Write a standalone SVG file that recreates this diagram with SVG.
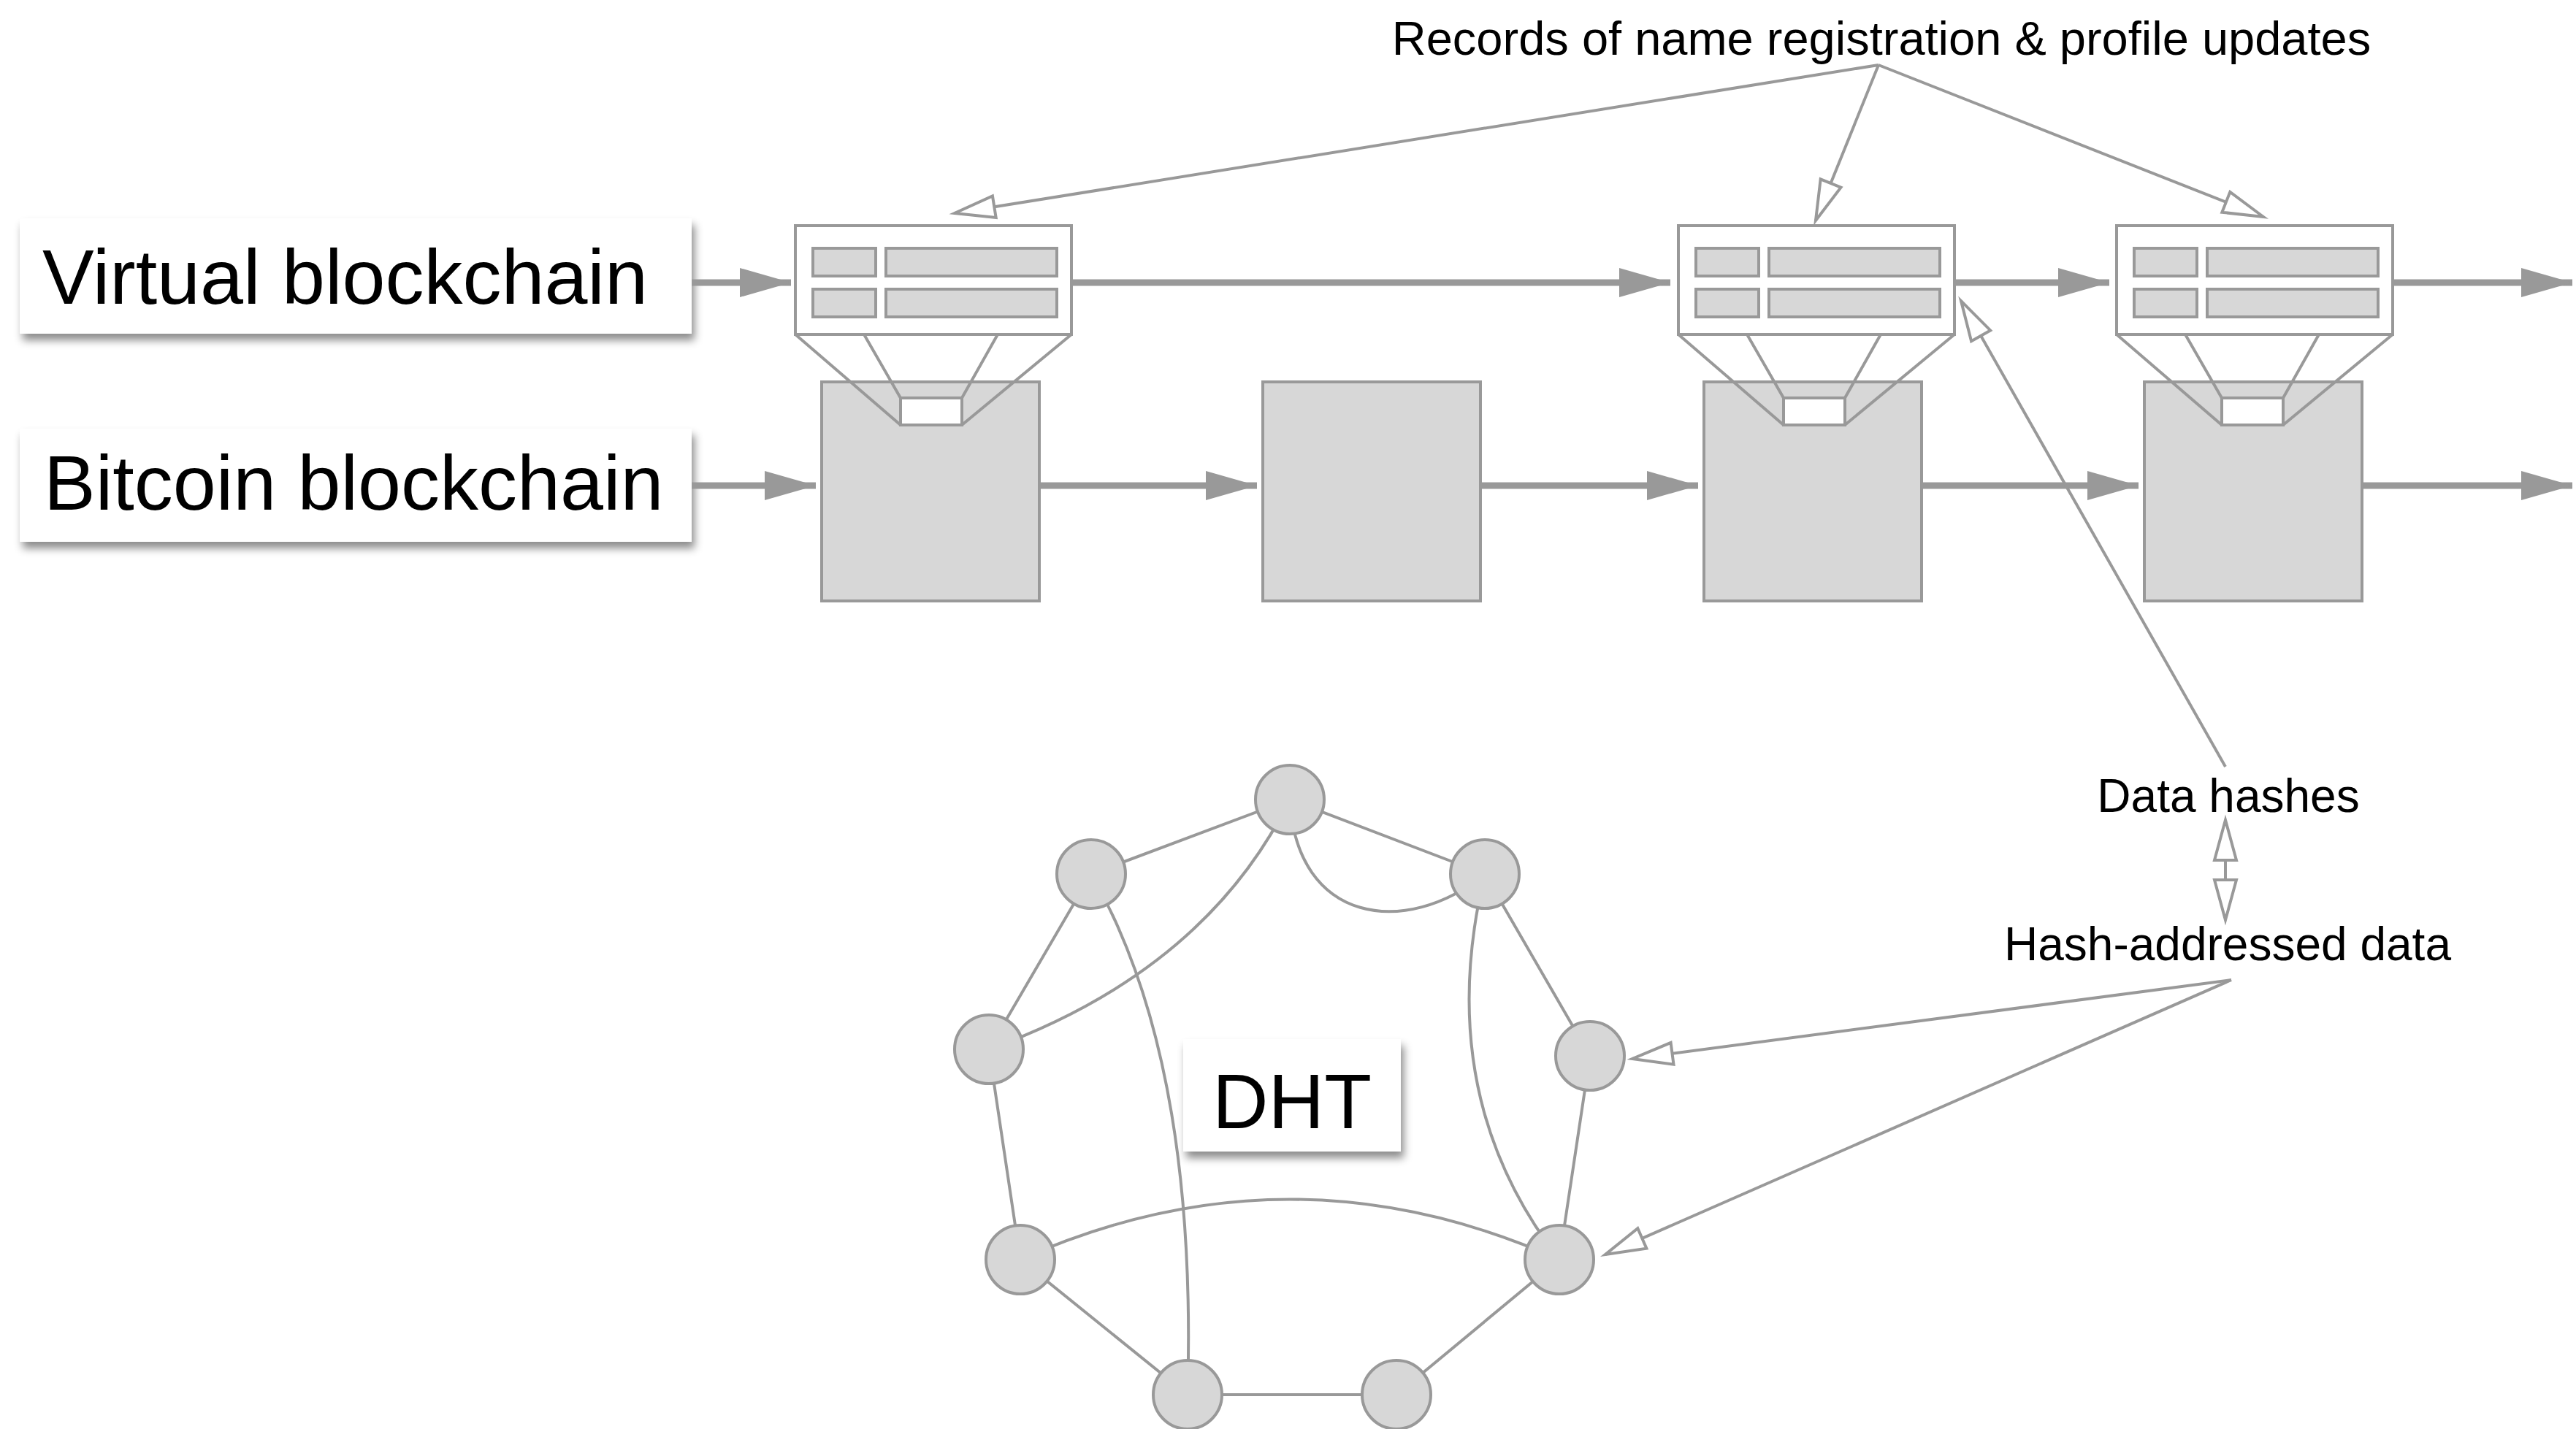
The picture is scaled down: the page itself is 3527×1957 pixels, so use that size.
<svg xmlns="http://www.w3.org/2000/svg" width="3527" height="1957" viewBox="0 0 3527 1957">
<style>
.txt{font-family:"Liberation Sans",Arial,Helvetica,sans-serif;fill:#000}
.big{font-size:106px}
.small{font-size:64px}
.lbl{fill:#fff;stroke:none}
.box{fill:#fff;stroke:#999;stroke-width:4}
.cell{fill:#d7d7d7;stroke:#999;stroke-width:4}
.blk{fill:#d7d7d7;stroke:#999;stroke-width:4}
.fun{fill:none;stroke:#999;stroke-width:4}
.node{fill:#d7d7d7;stroke:#999;stroke-width:4}
.edge{fill:none;stroke:#999;stroke-width:4}
.chain{fill:none;stroke:#999;stroke-width:9}
.ann{fill:none;stroke:#999;stroke-width:4}
</style>
<defs>
<filter id="sh" x="-10%" y="-20%" width="130%" height="160%">
<feDropShadow dx="4" dy="9" stdDeviation="6" flood-color="#000" flood-opacity="0.45"/>
</filter>
<marker id="fill" markerUnits="userSpaceOnUse" markerWidth="80" markerHeight="50" refX="70" refY="20" orient="auto" overflow="visible">
<path d="M70,20 L0,0 L0,40 Z" fill="#999"/>
</marker>
<marker id="open" markerUnits="userSpaceOnUse" markerWidth="70" markerHeight="40" refX="60" refY="20" orient="auto-start-reverse" overflow="visible">
<path d="M60,20 L5,5 L5,35 Z" fill="#fff" stroke="#999" stroke-width="4" stroke-linejoin="miter"/>
</marker>
</defs>
<rect width="3527" height="1957" fill="#fff"/>

<g id="label-virtual">
<rect class="lbl" x="27" y="299" width="920" height="158" filter="url(#sh)"/>
<text class="txt big" x="58" y="416">Virtual blockchain</text>
</g>
<g id="label-bitcoin">
<rect class="lbl" x="27" y="587" width="920" height="155" filter="url(#sh)"/>
<text class="txt big" x="60" y="698">Bitcoin blockchain</text>
</g>

<g id="block1"><rect class="blk" x="1125" y="523" width="298" height="300"/></g>
<g id="block2"><rect class="blk" x="1729" y="523" width="298" height="300"/></g>
<g id="block3"><rect class="blk" x="2333" y="523" width="298" height="300"/></g>
<g id="block4"><rect class="blk" x="2936" y="523" width="298" height="300"/></g>

<g id="record1">
<rect class="box" x="1089" y="309" width="378" height="149"/>
<rect class="cell" x="1113" y="340" width="86" height="38"/>
<rect class="cell" x="1213" y="340" width="234" height="38"/>
<rect class="cell" x="1113" y="396" width="86" height="38"/>
<rect class="cell" x="1213" y="396" width="234" height="38"/>
<path class="fun" d="M1089,458 L1233,582 M1467,458 L1317,582 M1183,458 L1233,545 M1366,458 L1317,545"/>
<rect class="box" x="1233" y="545" width="84" height="37"/>
</g>
<g id="record2">
<rect class="box" x="2298" y="309" width="378" height="149"/>
<rect class="cell" x="2322" y="340" width="86" height="38"/>
<rect class="cell" x="2422" y="340" width="234" height="38"/>
<rect class="cell" x="2322" y="396" width="86" height="38"/>
<rect class="cell" x="2422" y="396" width="234" height="38"/>
<path class="fun" d="M2298,458 L2442,582 M2676,458 L2526,582 M2392,458 L2442,545 M2575,458 L2526,545"/>
<rect class="box" x="2442" y="545" width="84" height="37"/>
</g>
<g id="record3">
<rect class="box" x="2898" y="309" width="378" height="149"/>
<rect class="cell" x="2922" y="340" width="86" height="38"/>
<rect class="cell" x="3022" y="340" width="234" height="38"/>
<rect class="cell" x="2922" y="396" width="86" height="38"/>
<rect class="cell" x="3022" y="396" width="234" height="38"/>
<path class="fun" d="M2898,458 L3042,582 M3276,458 L3126,582 M2992,458 L3042,545 M3175,458 L3126,545"/>
<rect class="box" x="3042" y="545" width="84" height="37"/>
</g>

<g id="dht-edges">
<path class="edge" d="M1766,1095 L1494,1197 M1766,1095 L2033,1197 M1494,1197 L1354,1437 M2033,1197 L2177,1446 M1354,1437 L1397,1725 M2177,1446 L2135,1725 M1397,1725 L1626,1910 M2135,1725 L1912,1910 M1626,1910 L1912,1910"/>
<path class="edge" d="M1766,1095 Q1650,1330 1354,1437"/>
<path class="edge" d="M1766,1095 C1775,1265 1925,1285 2033,1197"/>
<path class="edge" d="M1494,1197 Q1640,1450 1626,1910"/>
<path class="edge" d="M2033,1197 Q1960,1500 2135,1725"/>
<path class="edge" d="M1397,1725 Q1766,1560 2135,1725"/>
</g>
<g id="dht-n1"><circle class="node" cx="1766" cy="1095" r="47"/></g>
<g id="dht-n2"><circle class="node" cx="1494" cy="1197" r="47"/></g>
<g id="dht-n3"><circle class="node" cx="2033" cy="1197" r="47"/></g>
<g id="dht-n4"><circle class="node" cx="1354" cy="1437" r="47"/></g>
<g id="dht-n5"><circle class="node" cx="2177" cy="1446" r="47"/></g>
<g id="dht-n6"><circle class="node" cx="1397" cy="1725" r="47"/></g>
<g id="dht-n7"><circle class="node" cx="2135" cy="1725" r="47"/></g>
<g id="dht-n8"><circle class="node" cx="1626" cy="1910" r="47"/></g>
<g id="dht-n9"><circle class="node" cx="1912" cy="1910" r="47"/></g>
<g id="dht-label">
<rect class="lbl" x="1620" y="1423" width="298" height="154" filter="url(#sh)"/>
<text class="txt big" x="1769" y="1545" text-anchor="middle">DHT</text>
</g>

<g id="note-records">
<text class="txt" font-size="65" x="2576" y="75" text-anchor="middle">Records of name registration &amp; profile updates</text>
</g>
<g id="note-hashes">
<text class="txt small" x="3051" y="1112" text-anchor="middle">Data hashes</text>
</g>
<g id="note-data">
<text class="txt small" x="3050" y="1315" text-anchor="middle">Hash-addressed data</text>
</g>

<g id="connectors">
<path class="chain" d="M947,387 L1083,387" marker-end="url(#fill)"/>
<path class="chain" d="M1467,387 L2287,387" marker-end="url(#fill)"/>
<path class="chain" d="M2676,387 L2888,387" marker-end="url(#fill)"/>
<path class="chain" d="M3276,387 L3522,387" marker-end="url(#fill)"/>
<path class="chain" d="M947,665 L1117,665" marker-end="url(#fill)"/>
<path class="chain" d="M1423,665 L1721,665" marker-end="url(#fill)"/>
<path class="chain" d="M2027,665 L2325,665" marker-end="url(#fill)"/>
<path class="chain" d="M2631,665 L2928,665" marker-end="url(#fill)"/>
<path class="chain" d="M3234,665 L3522,665" marker-end="url(#fill)"/>
<path class="ann" d="M2572,89 L1307,292" marker-end="url(#open)"/>
<path class="ann" d="M2572,89 L2486,302" stroke-width="3" marker-end="url(#open)"/>
<path class="ann" d="M2572,89 L3099,297" marker-end="url(#open)"/>
<path class="ann" d="M3047,1050 L2685,412" marker-end="url(#open)"/>
<path class="ann" d="M3047,1123 L3047,1260" stroke-width="3" marker-start="url(#open)" marker-end="url(#open)"/>
<path class="ann" d="M3055,1342 L2235,1450" marker-end="url(#open)"/>
<path class="ann" d="M3055,1342 L2198,1718" marker-end="url(#open)"/>
</g>
</svg>
